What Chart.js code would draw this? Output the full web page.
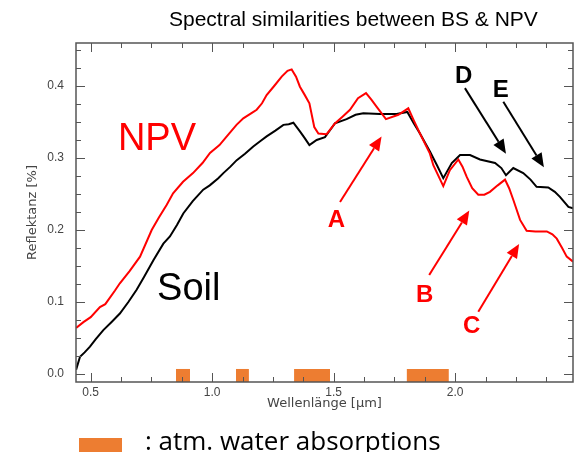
<!DOCTYPE html>
<html lang="en">
  <head>
    <meta charset="utf-8" />
    <title>Spectral similarities between BS &amp; NPV</title>
    <style>
      * {
        margin: 0;
        padding: 0;
      }
      body {
        background: #fff;
      }
      canvas {
        display: block;
      }
    </style>
  </head>
  <body>
    <canvas id="myChart" width="575" height="452"></canvas>
    <script src="https://cdn.jsdelivr.net/npm/chart.js/dist/chart.umd.min.js"></script>
    <script>
      // NPV (red) spectrum, wavelength in µm / reflectance
      const npvWave = [0.44, 0.47, 0.5, 0.538, 0.56, 0.6, 0.62, 0.66, 0.703, 0.751, 0.78, 0.813, 0.839, 0.88, 0.921, 0.96, 0.991, 1.03, 1.06, 1.1, 1.128, 1.16, 1.183, 1.205, 1.224, 1.255, 1.286, 1.31, 1.327, 1.345, 1.361, 1.38, 1.4, 1.42, 1.437, 1.471, 1.505, 1.535, 1.567, 1.6, 1.633, 1.655, 1.677, 1.715, 1.766, 1.807, 1.83, 1.855, 1.896, 1.91, 1.951, 1.978, 2.013, 2.03, 2.047, 2.07, 2.095, 2.12, 2.143, 2.175, 2.205, 2.222, 2.239, 2.267, 2.294, 2.33, 2.377, 2.4, 2.418, 2.44, 2.459, 2.485];
      const npvRefl = [0.064, 0.072, 0.079, 0.093, 0.097, 0.116, 0.126, 0.143, 0.163, 0.2, 0.217, 0.235, 0.251, 0.267, 0.279, 0.293, 0.307, 0.318, 0.33, 0.346, 0.355, 0.362, 0.367, 0.376, 0.3875, 0.4, 0.413, 0.421, 0.423, 0.413, 0.399, 0.388, 0.376, 0.343, 0.334, 0.333, 0.348, 0.357, 0.367, 0.383, 0.39, 0.381, 0.371, 0.354, 0.36, 0.369, 0.352, 0.334, 0.306, 0.29, 0.261, 0.283, 0.298, 0.288, 0.274, 0.258, 0.249, 0.249, 0.253, 0.262, 0.27, 0.258, 0.242, 0.214, 0.199, 0.198, 0.198, 0.194, 0.188, 0.175, 0.163, 0.156];

      // Soil (black) spectrum
      const soilWave = [0.44, 0.456, 0.475, 0.497, 0.52, 0.552, 0.585, 0.62, 0.655, 0.689, 0.72, 0.758, 0.799, 0.826, 0.855, 0.881, 0.92, 0.963, 0.99, 1.025, 1.046, 1.075, 1.101, 1.135, 1.169, 1.2, 1.224, 1.26, 1.293, 1.315, 1.334, 1.361, 1.38, 1.4, 1.43, 1.464, 1.49, 1.505, 1.553, 1.59, 1.622, 1.69, 1.759, 1.803, 1.83, 1.855, 1.896, 1.925, 1.951, 1.986, 2.02, 2.061, 2.102, 2.164, 2.19, 2.209, 2.239, 2.28, 2.31, 2.335, 2.383, 2.41, 2.431, 2.466, 2.485];
      const soilRefl = [0.006, 0.024, 0.03, 0.038, 0.048, 0.061, 0.072, 0.084, 0.1, 0.117, 0.135, 0.158, 0.181, 0.191, 0.207, 0.223, 0.24, 0.256, 0.262, 0.272, 0.279, 0.288, 0.297, 0.306, 0.316, 0.324, 0.33, 0.338, 0.346, 0.347, 0.349, 0.337, 0.328, 0.318, 0.325, 0.329, 0.341, 0.348, 0.354, 0.36, 0.362, 0.361, 0.361, 0.364, 0.348, 0.334, 0.309, 0.29, 0.272, 0.293, 0.304, 0.304, 0.298, 0.293, 0.286, 0.276, 0.286, 0.279, 0.27, 0.26, 0.259, 0.253, 0.246, 0.232, 0.23];

      // atmospheric water absorption bands (start, end in µm)
      const bandStart = [0.851, 1.098, 1.337, 1.8];
      const bandEnd = [0.909, 1.151, 1.485, 1.974];
      const bandTop = 0.007;

      const xTickLabels = [0.5, 1.0, 1.5, 2.0];
      const yTickLabels = [0.0, 0.1, 0.2, 0.3, 0.4];

      // annotation letters and arrows (data coordinates)
      const letters = [
        { text: "A", x: 1.476, y: 0.204, color: "#ff0000" },
        { text: "B", x: 1.839, y: 0.1, color: "#ff0000" },
        { text: "C", x: 2.032, y: 0.057, color: "#ff0000" },
        { text: "D", x: 1.999, y: 0.404, color: "#000" },
        { text: "E", x: 2.155, y: 0.385, color: "#000" },
      ];
      const arrows = [
        { from: [1.526, 0.239], to: [1.697, 0.33], color: "#ff0000" },
        { from: [1.893, 0.1375], to: [2.058, 0.227], color: "#ff0000" },
        { from: [2.095, 0.0865], to: [2.263, 0.1806], color: "#ff0000" },
        { from: [2.04, 0.397], to: [2.209, 0.306], color: "#000" },
        { from: [2.198, 0.378], to: [2.365, 0.287], color: "#000" },
      ];

      const toPoints = (xs, ys) => xs.map((x, i) => ({ x, y: ys[i] }));

      const bandSets = bandStart.map((s, i) => ({
        data: [
          { x: s, y: bandTop },
          { x: bandEnd[i], y: bandTop },
        ],
        fill: "start",
        backgroundColor: "#ed7d31",
        borderWidth: 0,
        pointRadius: 0,
      }));

      const frame = {
        id: "frame",
        afterDatasetsDraw(chart) {
          const { ctx, chartArea: a, scales } = chart;
          const { x, y } = scales;
          ctx.save();
          ctx.strokeStyle = "#555";
          ctx.lineWidth = 1;
          ctx.beginPath();
          for (let v = 0.5; v <= x.max; v += 0.125) {
            const px = Math.round(x.getPixelForValue(v)) + 0.5;
            const len = Math.abs(v * 2 - Math.round(v * 2)) < 1e-6 ? 9 : 5;
            ctx.moveTo(px, a.bottom);
            ctx.lineTo(px, a.bottom - len);
            ctx.moveTo(px, a.top);
            ctx.lineTo(px, a.top + len);
          }
          for (let v = 0; v <= y.max; v += 0.025) {
            const py = Math.round(y.getPixelForValue(v)) + 0.5;
            const len = Math.abs(v * 10 - Math.round(v * 10)) < 1e-6 ? 9 : 5;
            ctx.moveTo(a.left, py);
            ctx.lineTo(a.left + len, py);
            ctx.moveTo(a.right, py);
            ctx.lineTo(a.right - len, py);
          }
          ctx.stroke();
          ctx.lineWidth = 1.5;
          ctx.strokeRect(a.left, a.top, a.width, a.height);
          ctx.restore();
        },
        afterDraw(chart) {
          const { ctx, scales } = chart;
          const { x, y } = scales;
          ctx.save();

          // title
          ctx.fillStyle = "#000";
          ctx.font = '21px "Liberation Sans", Arial, sans-serif';
          ctx.textBaseline = "alphabetic";
          ctx.fillText("Spectral similarities between BS & NPV", 169, 26);

          // series names
          ctx.font = '38px "Liberation Sans", Arial, sans-serif';
          ctx.fillStyle = "#ff0000";
          ctx.fillText("NPV", x.getPixelForValue(0.612), y.getPixelForValue(0.311));
          ctx.fillStyle = "#000";
          ctx.fillText("Soil", x.getPixelForValue(0.773), y.getPixelForValue(0.103));

          // arrows
          arrows.forEach((ar) => {
            const x0 = x.getPixelForValue(ar.from[0]);
            const y0 = y.getPixelForValue(ar.from[1]);
            const x1 = x.getPixelForValue(ar.to[0]);
            const y1 = y.getPixelForValue(ar.to[1]);
            const ang = Math.atan2(y1 - y0, x1 - x0);
            const head = 14;
            const hw = 6;
            const bx = x1 - head * Math.cos(ang);
            const by = y1 - head * Math.sin(ang);
            ctx.strokeStyle = ar.color;
            ctx.fillStyle = ar.color;
            ctx.lineWidth = 2;
            ctx.beginPath();
            ctx.moveTo(x0, y0);
            ctx.lineTo(bx, by);
            ctx.stroke();
            ctx.beginPath();
            ctx.moveTo(x1, y1);
            ctx.lineTo(bx + hw * Math.sin(ang), by - hw * Math.cos(ang));
            ctx.lineTo(bx - hw * Math.sin(ang), by + hw * Math.cos(ang));
            ctx.closePath();
            ctx.fill();
          });

          // letters
          ctx.font = 'bold 24px "Liberation Sans", Arial, sans-serif';
          letters.forEach((l) => {
            ctx.fillStyle = l.color;
            ctx.fillText(l.text, x.getPixelForValue(l.x), y.getPixelForValue(l.y));
          });

          // legend for the absorption bands
          ctx.fillStyle = "#ed7d31";
          ctx.fillRect(79, 438, 43, 16);
          ctx.fillStyle = "#000";
          ctx.font = '26px "Open Sans", "Noto Sans", sans-serif';
          ctx.fillText(": atm. water absorptions", 145, 450);
          ctx.restore();
        },
      };

      const config = {
        type: "line",
        data: {
          datasets: [
            ...bandSets,
            {
              label: "NPV",
              data: toPoints(npvWave, npvRefl),
              borderColor: "#ff0000",
              borderWidth: 2,
              pointRadius: 0,
              tension: 0,
            },
            {
              label: "Soil",
              data: toPoints(soilWave, soilRefl),
              borderColor: "#000",
              borderWidth: 2,
              pointRadius: 0,
              tension: 0,
            },
          ],
        },
        options: {
          responsive: false,
          animation: false,
          devicePixelRatio: 1,
          layout: {
            padding: { top: 43, right: 2, bottom: 0, left: 0 },
          },
          scales: {
            x: {
              type: "linear",
              min: 0.4395,
              max: 2.4848,
              grid: { display: false, drawTicks: false },
              border: { display: false },
              afterBuildTicks: (s) => {
                s.ticks = xTickLabels.map((v) => ({ value: v }));
              },
              afterFit: (s) => {
                s.height = 70;
              },
              ticks: {
                padding: 3,
                maxRotation: 0,
                color: "#444",
                font: { family: "'Liberation Sans', Arial", size: 12 },
                callback: (v) => v.toFixed(1),
              },
              title: {
                display: true,
                text: "Wellenlänge [µm]",
                color: "#444",
                font: { family: "'DejaVu Sans'", size: 13 },
                padding: { bottom: 41 },
              },
            },
            y: {
              min: -0.0111,
              max: 0.4597,
              grid: { display: false, drawTicks: false },
              border: { display: false },
              afterBuildTicks: (s) => {
                s.ticks = yTickLabels.map((v) => ({ value: v }));
              },
              afterFit: (s) => {
                s.width = 76;
              },
              ticks: {
                padding: 12,
                color: "#444",
                font: { family: "'Liberation Sans', Arial", size: 12 },
                callback: (v) => v.toFixed(1),
              },
              title: {
                display: true,
                text: "Reflektanz [%]",
                color: "#444",
                font: { family: "'DejaVu Sans'", size: 13 },
                padding: { top: 25 },
              },
            },
          },
          plugins: {
            legend: { display: false },
            tooltip: { enabled: false },
          },
        },
        plugins: [frame],
      };

      const myChart = new Chart(document.getElementById("myChart"), config);
    </script>
  </body>
</html>
